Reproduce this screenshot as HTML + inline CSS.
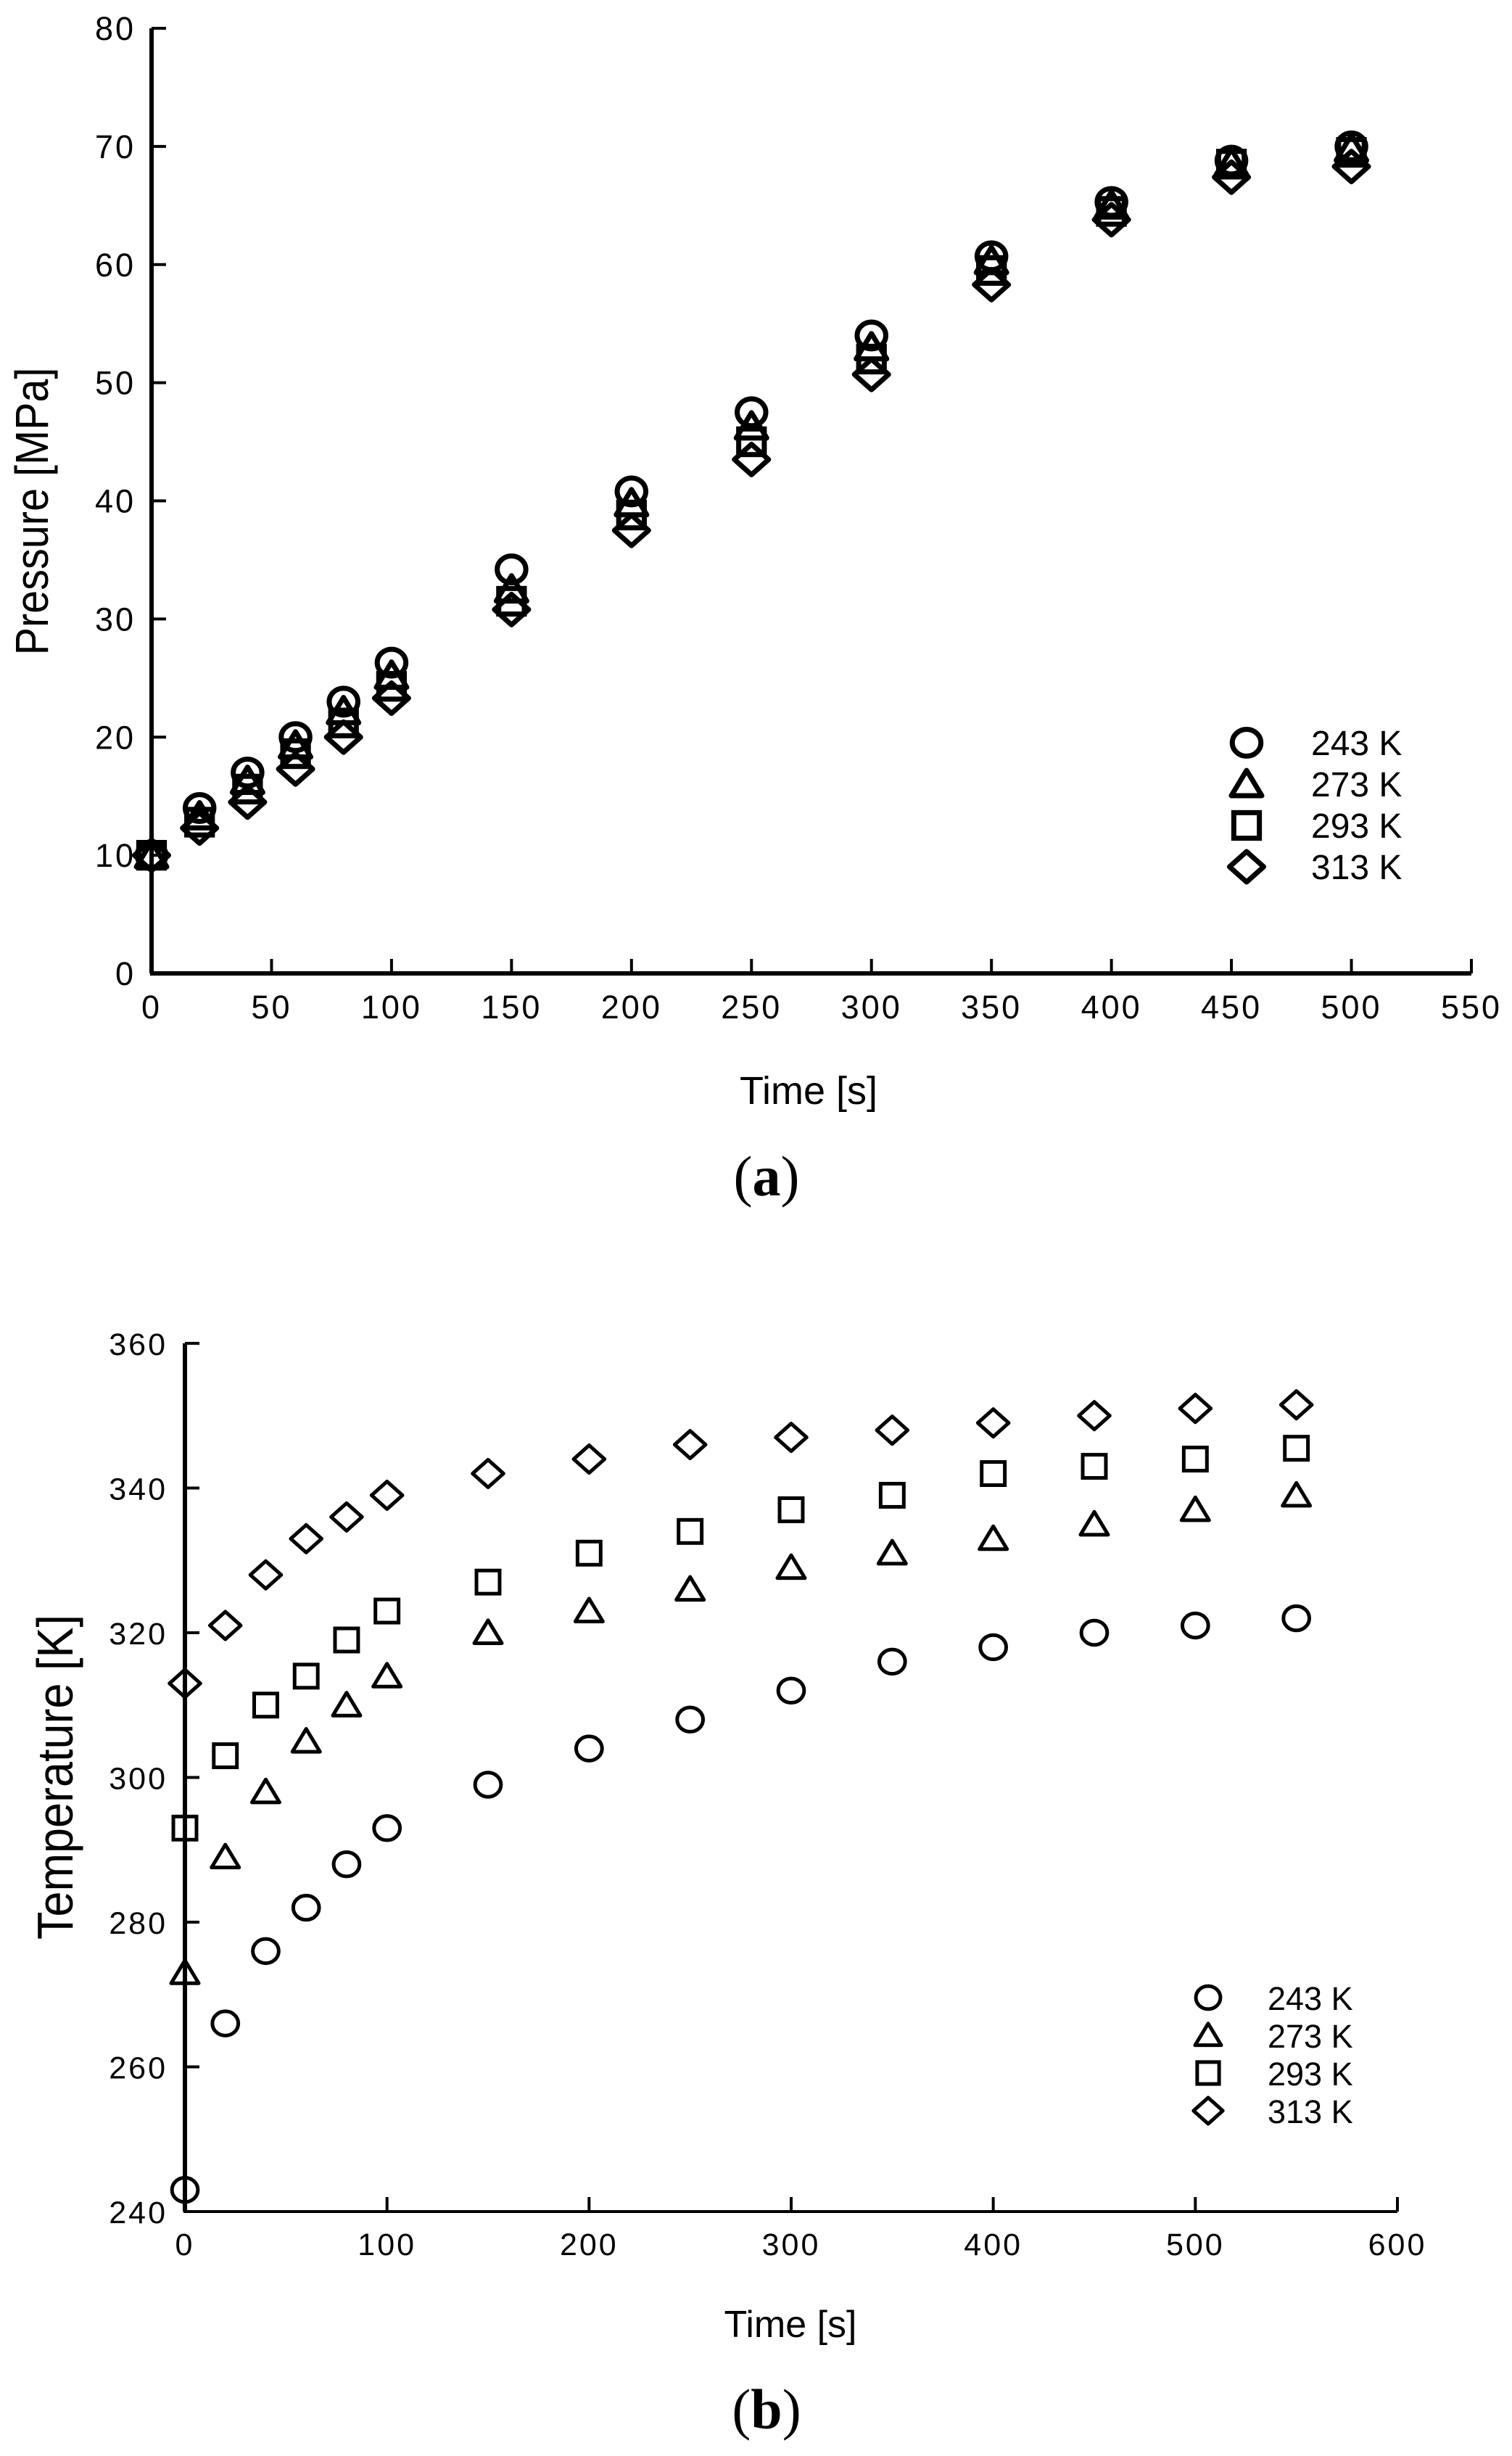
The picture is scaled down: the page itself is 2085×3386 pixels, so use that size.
<!DOCTYPE html>
<html><head><meta charset="utf-8"><style>
html,body{margin:0;padding:0;background:#fff;}
svg{display:block;font-family:"Liberation Sans",Arial,sans-serif;}
</style></head><body>
<svg id="root" width="2085" height="3386" viewBox="0 0 2085 3386" xmlns="http://www.w3.org/2000/svg">
<g id="chartA"></g>
<g id="chartB"></g>
</svg>
<script>
const timesA = [0,20,40,60,80,100,150,200,250,300,350,400,450,500];
const pA243 = [10,14,17,20,23,26.3,34.2,40.8,47.5,54,60.7,65.3,68.8,70];
const pA273 = [10,13.3,16.3,19.3,22.2,25.2,32.5,39.8,46.3,53,60.3,65,68.6,69.8];
const pA293 = [10,12.8,15.6,18.6,21.2,24.3,31.5,38.8,45,52,59.5,64.5,68.5,69.5];
const pA313 = [10,12.3,14.5,17.3,20,23.3,30.8,37.5,43.5,50.7,58.3,63.8,67.4,68.3];
const xTicksA = [0,50,100,150,200,250,300,350,400,450,500,550];
const yTicksA = [0,10,20,30,40,50,60,70,80];

const timesB = [0,20,40,60,80,100,150,200,250,300,350,400,450,500,550];
const tB243 = [243,266,276,282,288,293,299,304,308,312,316,318,320,321,322];
const tB273 = [273,289,298,305,310,314,320,323,326,329,331,333,335,337,339];
const tB293 = [293,303,310,314,319,323,327,331,334,337,339,342,343,344,345.5];
const tB313 = [313,321,328,333,336,339,342,344,346,347,348,349,350,351,351.5];
const xTicksB = [0,100,200,300,400,500,600];
const yTicksB = [240,260,280,300,320,340,360];
const legendLabels = ["243 K","273 K","293 K","313 K"];
const markerKinds = ["circle","triangle","square","diamond"];

const NS="http://www.w3.org/2000/svg";
function mk(tag, attrs, parent){const e=document.createElementNS(NS,tag);for(const k in attrs)e.setAttribute(k,attrs[k]);parent.appendChild(e);return e;}
function marker(kind,cx,cy,s,parent,sw){
  let e;
  if(kind==="circle") e=mk("ellipse",{cx:cx,cy:cy,rx:s*0.47,ry:s*0.44,fill:"none",stroke:"#000","stroke-width":sw},parent);
  else if(kind==="triangle") e=mk("polygon",{points:`${cx-s*0.5},${cy+s*0.38} ${cx+s*0.5},${cy+s*0.38} ${cx},${cy-s*0.45}`,fill:"none",stroke:"#000","stroke-width":sw,"stroke-linejoin":"round"},parent);
  else if(kind==="square") e=mk("rect",{x:cx-s*0.42,y:cy-s*0.42,width:s*0.84,height:s*0.84,fill:"none",stroke:"#000","stroke-width":sw},parent);
  else e=mk("polygon",{points:`${cx-s*0.56},${cy} ${cx},${cy-s*0.5} ${cx+s*0.56},${cy} ${cx},${cy+s*0.5}`,fill:"none",stroke:"#000","stroke-width":sw,"stroke-linejoin":"round"},parent);
  return e;
}

function buildChart(g, cfg){
  const xs=v=>cfg.x0+(v-cfg.xmin)/(cfg.xmax-cfg.xmin)*(cfg.x1-cfg.x0);
  const ys=v=>cfg.yb+(v-cfg.ymin)/(cfg.ymax-cfg.ymin)*(cfg.yt-cfg.yb);
  let ax=mk("line",{x1:cfg.x0,y1:cfg.yt,x2:cfg.x0,y2:cfg.yb,stroke:"#000","stroke-width":cfg.ayw},g);
  
  
  let bx=mk("line",{x1:cfg.x0-2,y1:cfg.yb,x2:cfg.x1,y2:cfg.yb,stroke:"#000","stroke-width":cfg.axw},g);
  
  
  cfg.yTicks.forEach(v=>{
    const t=mk("line",{x1:cfg.x0,y1:ys(v),x2:cfg.x0+20,y2:ys(v),stroke:"#000","stroke-width":4},g);
    
    
    const l=mk("text",{x:cfg.x0-cfg.ylo,y:ys(v)+16,"text-anchor":"end","font-size":cfg.tfs,"letter-spacing":3},g);
    l.textContent=v;
    
    
  });
  cfg.xTicks.forEach(v=>{
    const t=mk("line",{x1:xs(v),y1:cfg.yb,x2:xs(v),y2:cfg.yb-20,stroke:"#000","stroke-width":4},g);
    
    
    const l=mk("text",{x:xs(v),y:cfg.yb+cfg.xlo,"text-anchor":"middle","font-size":cfg.tfs,"letter-spacing":3},g);
    l.textContent=v;
    
    
  });
  cfg.series.forEach((s,i)=>{
    s.forEach((v,j)=>{
      const m=marker(markerKinds[i],xs(cfg.times[j]),ys(v),cfg.ms,g,cfg.msw);
      
      
    });
  });
  legendLabels.forEach((lab,i)=>{
    const y=cfg.legY+i*cfg.legDy;
    const m=marker(markerKinds[i],cfg.legMx,y,cfg.legMs,g,cfg.msw);
    
    
    const t=mk("text",{x:cfg.legTx,y:y+17,"font-size":cfg.legFs},g);
    t.textContent=lab;
    
    
  });
  const yt=mk("text",{x:0,y:0,"text-anchor":"middle","font-size":cfg.ytfs,transform:`translate(${cfg.ytx},${cfg.yty}) rotate(-90) scale(0.9,1)`},g);
  yt.textContent=cfg.ytitle;
  
  
  const xt=mk("text",{x:cfg.xtx,y:cfg.xty,"text-anchor":"middle","font-size":cfg.xtfs},g);
  xt.textContent="Time [s]";
  
  
  const cap=mk("text",{x:1057,y:cfg.capy,"text-anchor":"middle","font-size":78,"font-family":"Liberation Serif, serif"},g);
  cap.innerHTML='(<tspan font-weight="bold">'+cfg.cap+'</tspan>)';
  
  
}

buildChart(document.getElementById('chartA'),{
  x0:209,x1:2029,xmin:0,xmax:550,yb:1342,yt:39,ymin:0,ymax:80,
  xTicks:xTicksA,yTicks:yTicksA,times:timesA,series:[pA243,pA273,pA293,pA313],
  ayw:6,axw:6,tfs:45,ylo:22,xlo:62,ms:42,msw:7,
  legY:1024,legDy:57,legMx:1719,legMs:42,legTx:1808,legFs:48,
  ytitle:"Pressure [MPa]",ytx:66,yty:705,ytfs:64,xtx:1115,xty:1522,xtfs:54,capy:1648,cap:"a"
});
buildChart(document.getElementById('chartB'),{
  x0:255,x1:1927,xmin:0,xmax:600,yb:3049,yt:1852,ymin:240,ymax:360,
  xTicks:xTicksB,yTicks:yTicksB,times:timesB,series:[tB243,tB273,tB293,tB313],
  ayw:6,axw:4,tfs:43,ylo:24,xlo:60,ms:38,msw:5,
  legY:2754,legDy:52,legMx:1666,legMs:36,legTx:1748,legFs:45,
  ytitle:"Temperature [K]",ytx:100,yty:2450,ytfs:70,xtx:1090,xty:3222,xtfs:52,capy:3348,cap:"b"
});
</script>
</body></html>
